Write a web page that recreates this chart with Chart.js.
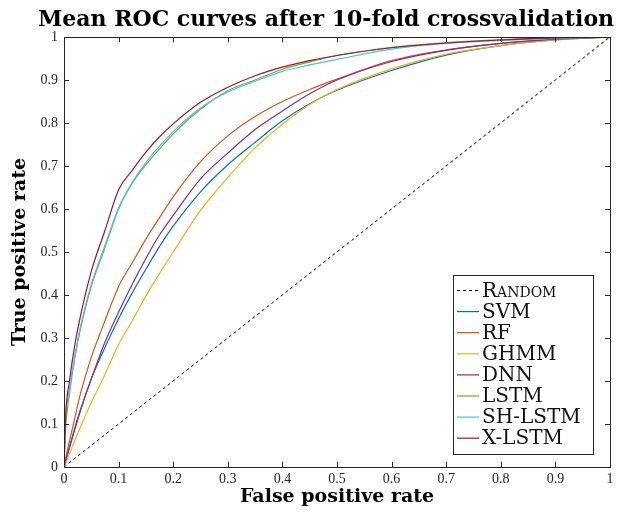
<!DOCTYPE html>
<html>
<head>
<meta charset="utf-8">
<script src="https://cdn.jsdelivr.net/npm/chart.js@4.4.1/dist/chart.umd.min.js"></script>
<style>
  html, body { margin: 0; padding: 0; background: #fff; }
  #wrap { width: 637px; height: 512px; }
</style>
</head>
<body>
<div id="wrap"><canvas id="roc" width="637" height="512"></canvas></div>
<script>
// false positive rate grid, shared by all curves
const fpr = [0, 0.003, 0.01, 0.02, 0.03, 0.05, 0.075, 0.1, 0.125, 0.15, 0.175, 0.2, 0.25, 0.3, 0.35, 0.4, 0.45, 0.5, 0.6, 0.7, 0.8, 0.9, 1];

// true positive rate for every model
const tprSVM    = [0, 0.015, 0.046, 0.092, 0.133, 0.205, 0.278, 0.345, 0.405, 0.46, 0.513, 0.56, 0.64, 0.703, 0.755, 0.805, 0.845, 0.876, 0.922, 0.958, 0.98, 0.993, 1];
const tprRF     = [0, 0.02, 0.06, 0.115, 0.17, 0.255, 0.34, 0.42, 0.475, 0.53, 0.58, 0.628, 0.71, 0.77, 0.815, 0.85, 0.878, 0.902, 0.945, 0.97, 0.985, 0.995, 1];
const tprGHMM   = [0, 0.008, 0.03, 0.062, 0.093, 0.15, 0.215, 0.285, 0.34, 0.398, 0.45, 0.5, 0.597, 0.673, 0.742, 0.797, 0.843, 0.878, 0.926, 0.96, 0.98, 0.993, 1];
const tprDNN    = [0, 0.015, 0.045, 0.088, 0.13, 0.205, 0.29, 0.36, 0.425, 0.485, 0.54, 0.585, 0.67, 0.73, 0.785, 0.828, 0.868, 0.9, 0.943, 0.969, 0.985, 0.995, 1];
const tprLSTM   = [0, 0.09, 0.17, 0.255, 0.32, 0.42, 0.51, 0.6, 0.66, 0.703, 0.74, 0.775, 0.832, 0.875, 0.9, 0.925, 0.942, 0.957, 0.976, 0.987, 0.994, 0.998, 1];
const tprSHLSTM = [0, 0.11, 0.18, 0.26, 0.325, 0.425, 0.515, 0.603, 0.662, 0.708, 0.746, 0.78, 0.835, 0.872, 0.897, 0.92, 0.935, 0.948, 0.972, 0.985, 0.992, 0.997, 1];
const tprXLSTM  = [0, 0.12, 0.2, 0.285, 0.35, 0.455, 0.55, 0.645, 0.69, 0.732, 0.768, 0.798, 0.848, 0.883, 0.91, 0.93, 0.945, 0.957, 0.975, 0.986, 0.993, 0.998, 1];
const tprRandom = [0, 1];
const fprRandom = [0, 1];

const seriesNames = ['Random', 'SVM', 'RF', 'GHMM', 'DNN', 'LSTM', 'SH-LSTM', 'X-LSTM'];
const seriesColors = ['#000000', '#0072BD', '#D95319', '#EDB120', '#7E2F8E', '#77AC30', '#4DBEEE', '#A2142F'];

const xTickLabels = ['0', '0.1', '0.2', '0.3', '0.4', '0.5', '0.6', '0.7', '0.8', '0.9', '1'];
const yTickLabels = ['0', '0.1', '0.2', '0.3', '0.4', '0.5', '0.6', '0.7', '0.8', '0.9', '1'];

const serif = "'DejaVu Serif', serif";

function toPoints(xs, ys) {
    return xs.map((x, i) => ({ x: x, y: ys[i] }));
}

const curves = [
    toPoints(fprRandom, tprRandom),
    toPoints(fpr, tprSVM),
    toPoints(fpr, tprRF),
    toPoints(fpr, tprGHMM),
    toPoints(fpr, tprDNN),
    toPoints(fpr, tprLSTM),
    toPoints(fpr, tprSHLSTM),
    toPoints(fpr, tprXLSTM)
];

const datasets = curves.map((pts, i) => ({
    label: seriesNames[i],
    data: pts,
    borderColor: seriesColors[i],
    borderWidth: i === 0 ? 1 : 1.2,
    borderDash: i === 0 ? [3, 3] : [],
    pointRadius: 0,
    fill: false,
    cubicInterpolationMode: 'monotone',
    order: seriesNames.length - i
}));

// box, inward ticks on all four sides, legend and title
const framePlugin = {
    id: 'frame',
    afterDraw(chart) {
        const ctx = chart.ctx;
        const a = chart.chartArea;
        const xs = chart.scales.x, ys = chart.scales.y;
        const tick = 5;

        ctx.save();
        ctx.strokeStyle = '#262626';
        ctx.lineWidth = 1;
        ctx.beginPath();
        xs.ticks.forEach(t => {
            const px = Math.round(xs.getPixelForValue(t.value)) + 0.5;
            ctx.moveTo(px, a.bottom); ctx.lineTo(px, a.bottom - tick);
            ctx.moveTo(px, a.top); ctx.lineTo(px, a.top + tick);
        });
        ys.ticks.forEach(t => {
            const py = Math.round(ys.getPixelForValue(t.value)) + 0.5;
            ctx.moveTo(a.left, py); ctx.lineTo(a.left + tick, py);
            ctx.moveTo(a.right, py); ctx.lineTo(a.right - tick, py);
        });
        ctx.stroke();
        ctx.strokeRect(Math.round(a.left) + 0.5, Math.round(a.top) + 0.5,
                       Math.round(a.right - a.left), Math.round(a.bottom - a.top));

        // legend
        const lx = 453, ly = 275, lw = 140, lh = 179;
        ctx.fillStyle = '#fff';
        ctx.fillRect(lx, ly, lw, lh);
        ctx.strokeStyle = '#262626';
        ctx.strokeRect(lx + 0.5, ly + 0.5, lw, lh);
        ctx.font = "small-caps 20px " + serif;
        ctx.textBaseline = 'middle';
        ctx.textAlign = 'left';
        chart.data.datasets.forEach((ds, i) => {
            const cy = ly + 15.5 + i * 21.1;
            ctx.strokeStyle = ds.borderColor;
            ctx.lineWidth = ds.borderWidth;
            ctx.setLineDash(ds.borderDash);
            ctx.beginPath();
            ctx.moveTo(lx + 4, cy); ctx.lineTo(lx + 26, cy);
            ctx.stroke();
            ctx.setLineDash([]);
            ctx.fillStyle = '#111';
            ctx.fillText(ds.label, lx + 29, cy + 1);
        });

        // title
        ctx.font = "bold 22px " + serif;
        ctx.textAlign = 'center';
        ctx.textBaseline = 'alphabetic';
        ctx.fillStyle = '#000';
        ctx.fillText('Mean ROC curves after 10-fold crossvalidation', 326, 26);
        ctx.restore();
    }
};

new Chart(document.getElementById('roc'), {
    type: 'line',
    data: { datasets: datasets },
    options: {
        responsive: false,
        animation: false,
        devicePixelRatio: 1,
        layout: { padding: { top: 37, right: 27, left: 0, bottom: 0 } },
        plugins: {
            legend: { display: false },
            title: { display: false },
            tooltip: { enabled: false }
        },
        scales: {
            x: {
                type: 'linear',
                min: 0, max: 1,
                grid: { display: false, drawTicks: false },
                border: { display: false },
                ticks: {
                    stepSize: 0.1,
                    padding: 4,
                    maxRotation: 0,
                    color: '#262626',
                    font: { family: "'Liberation Serif', serif", size: 14 },
                    callback: (v, i) => xTickLabels[i]
                },
                title: {
                    display: true,
                    text: 'False positive rate',
                    color: '#000',
                    font: { family: serif, size: 19, weight: 'bold' },
                    padding: { top: 0, bottom: 4 }
                },
                afterFit: scale => { scale.height = 45; }
            },
            y: {
                type: 'linear',
                min: 0, max: 1,
                grid: { display: false, drawTicks: false },
                border: { display: false },
                ticks: {
                    stepSize: 0.1,
                    padding: 6,
                    color: '#262626',
                    font: { family: "'Liberation Serif', serif", size: 14 },
                    callback: (v, i) => yTickLabels[i]
                },
                title: {
                    display: true,
                    text: 'True positive rate',
                    color: '#000',
                    font: { family: serif, size: 19, weight: 'bold' },
                    padding: { top: 9, bottom: 0 }
                },
                afterFit: scale => { scale.width = 64; }
            }
        }
    },
    plugins: [framePlugin]
});
</script>
</body>
</html>
